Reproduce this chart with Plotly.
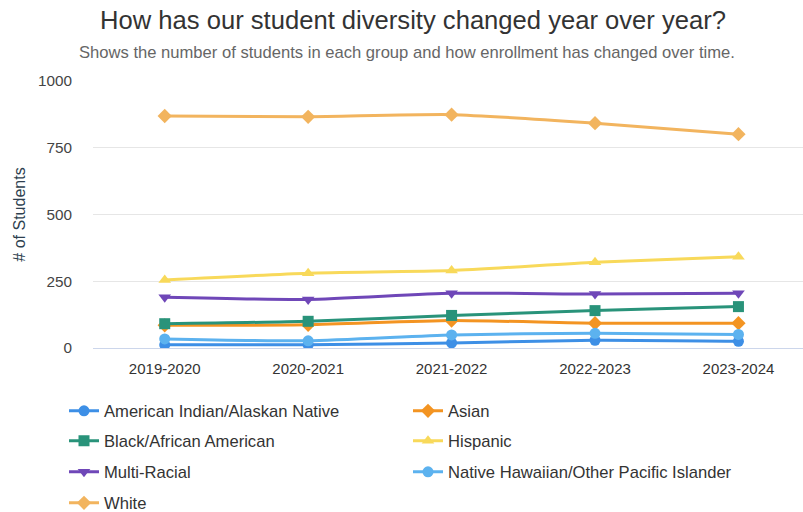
import plotly.graph_objects as go

years = ["2019-2020", "2020-2021", "2021-2022", "2022-2023", "2023-2024"]

american_indian = [12, 12, 19, 29, 25]
asian = [85, 87, 103, 93, 93]
black = [91, 100, 122, 140, 155]
hispanic = [255, 280, 290, 321, 342]
multi_racial = [190, 182, 205, 202, 205]
native_hawaiian = [34, 27, 49, 55, 51]
white = [869, 866, 874, 842, 801]

series = [
    ("American Indian/Alaskan Native", american_indian, "#3d8fe6", "circle", "legend"),
    ("Asian", asian, "#f39422", "diamond", "legend"),
    ("Black/African American", black, "#29937a", "square", "legend2"),
    ("Hispanic", hispanic, "#f8d95a", "triangle-up", "legend2"),
    ("Multi-Racial", multi_racial, "#6f47b8", "triangle-down", "legend3"),
    ("Native Hawaiian/Other Pacific Islander", native_hawaiian, "#5cb2ef", "circle", "legend3"),
    ("White", white, "#f2b45e", "diamond", "legend4"),
]

FONT = "Liberation Sans, Arial, sans-serif"

fig = go.Figure()
for name, vals, color, sym, leg in series:
    fig.add_trace(go.Scatter(
        x=years, y=vals, name=name, mode="lines+markers",
        line=dict(color=color, width=3, shape="spline", smoothing=0.6),
        marker=dict(symbol=sym, size=11, color=color),
        legend=leg,
    ))

rows_y = [1 - 411 / 512, 1 - 441 / 512, 1 - 472 / 512, 1 - 503 / 512]
leg_common = dict(orientation="h", xref="container", yref="container",
                  x=64 / 803, xanchor="left", yanchor="middle",
                  entrywidth=299, entrywidthmode="pixels",
                  font=dict(family=FONT, size=16.6, color="#333333"),
                  bgcolor="rgba(0,0,0,0)")

fig.update_layout(
    width=803, height=512,
    margin=dict(l=93, r=0, t=81, b=164),
    paper_bgcolor="white", plot_bgcolor="white",
    font=dict(family=FONT, color="#333333"),
    title=dict(text="How has our student diversity changed year over year?",
               x=413 / 803, xanchor="center", y=1 - 20 / 512, yanchor="middle",
               font=dict(size=25.6, color="#333333", family=FONT)),
    annotations=[dict(text="Shows the number of students in each group and how enrollment has changed over time.",
                      xref="paper", yref="paper", x=(407 - 93) / 710, y=(348 - 53) / 267,
                      xanchor="center", yanchor="middle", showarrow=False,
                      font=dict(size=16.6, color="#666666", family=FONT))],
    xaxis=dict(range=[-0.5, 4.45], showgrid=False, showline=True, linecolor="#ccd6eb",
               ticks="", tickfont=dict(size=15, color="#333333"), ticklabelstandoff=7),
    yaxis=dict(range=[0, 1000], tickvals=[0, 250, 500, 750, 1000], gridcolor="#e6e6e6",
               zeroline=False, showline=False, tickfont=dict(size=15.3, color="#444444"),
               ticklabelstandoff=20,
               title=dict(text="# of Students", font=dict(size=16, color="#2e3f4f"), standoff=8)),
    legend=dict(**leg_common, y=rows_y[0]),
    legend2=dict(**leg_common, y=rows_y[1]),
    legend3=dict(**leg_common, y=rows_y[2]),
    legend4=dict(**leg_common, y=rows_y[3]),
)

fig.write_html("out.html")
